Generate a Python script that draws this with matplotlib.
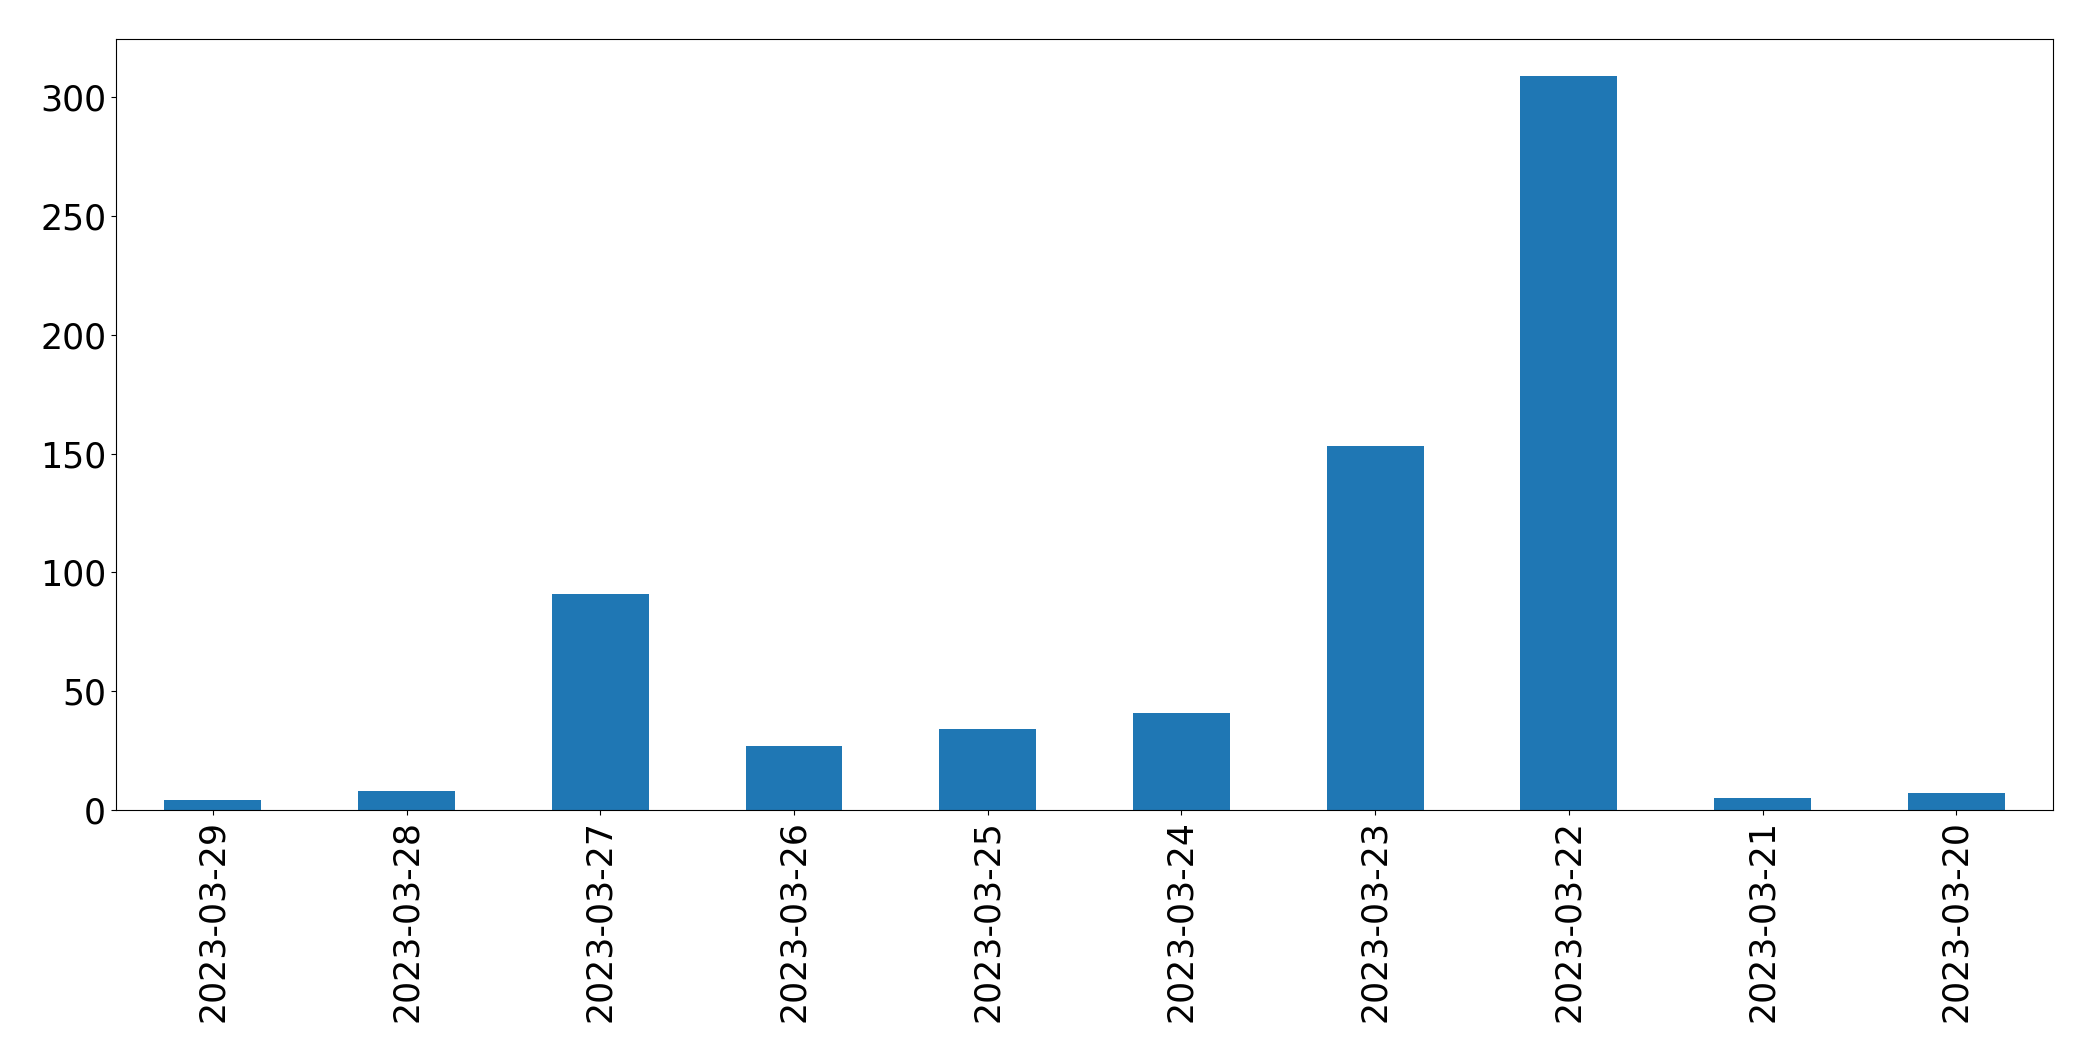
import matplotlib
matplotlib.use("Agg")
import matplotlib.pyplot as plt
import pandas as pd

dates = ["2023-03-29", "2023-03-28", "2023-03-27", "2023-03-26", "2023-03-25",
         "2023-03-24", "2023-03-23", "2023-03-22", "2023-03-21", "2023-03-20"]
counts = [4, 8, 91, 27, 34, 41, 153, 309, 5, 7]

series = pd.Series(counts, index=dates)

fig = plt.figure(figsize=(20.93, 10.61), dpi=100)
ax = fig.add_axes([0.0554, 0.2366, 0.9256, 0.7266])
series.plot(kind="bar", ax=ax, color="#1f77b4")
ax.tick_params(axis="both", labelsize=25)
ax.tick_params(axis="x", labelrotation=90)

fig.savefig("out.png", dpi=100)
